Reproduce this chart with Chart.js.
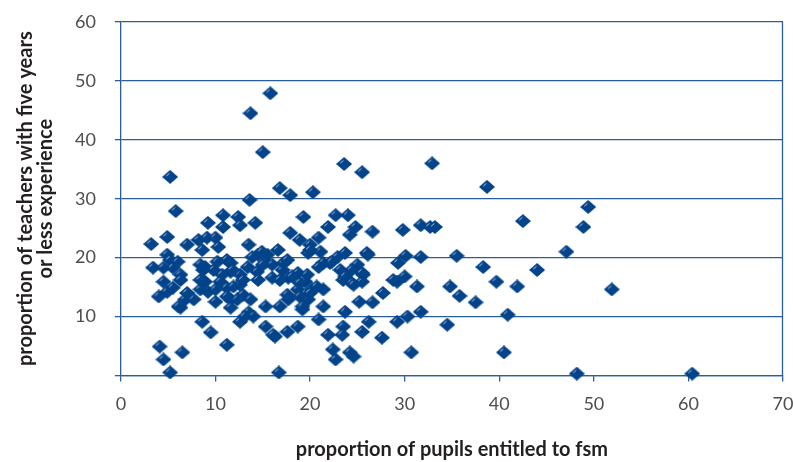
<!DOCTYPE html>
<html>
<head>
<meta charset="utf-8">
<script src="https://cdn.jsdelivr.net/npm/chart.js@4/dist/chart.umd.min.js"></script>
<style>
  html, body { margin: 0; padding: 0; background: #fff; }
  #wrap { width: 793px; height: 462px; }
</style>
</head>
<body>
<div id="wrap"><canvas id="chart" width="793" height="462"></canvas></div>
<script>
// ---- Data ----
const xTicks = [0, 10, 20, 30, 40, 50, 60, 70];
const yTicks = [10, 20, 30, 40, 50, 60];

// proportion of pupils entitled to fsm
const fsmShare = [
  15.8, 13.7, 15.0, 5.2, 13.6, 16.8, 17.9, 20.3, 23.6, 25.5,
  32.9, 38.7, 49.4, 48.9, 42.5, 47.1, 51.9, 44.0, 41.9, 39.7,
  38.3, 35.5, 40.9, 40.5, 48.2, 60.4, 37.5, 35.8, 34.8, 34.5,
  31.7, 30.7, 31.3, 31.7, 30.1, 29.8, 31.7, 32.7, 33.2, 26.6,
  24.8, 24.2, 24.0, 22.7, 29.2, 30.0, 27.7, 26.6, 25.2, 23.7,
  30.3, 29.2, 26.2, 25.5, 27.6, 23.5, 23.4, 24.6, 22.7, 22.4,
  22.9, 23.7, 26.1, 25.0, 24.4, 25.6, 23.2, 23.5, 24.4, 25.5,
  22.1, 29.3, 28.8, 5.8, 10.8, 9.2, 12.4, 12.6, 14.2, 10.8,
  4.9, 3.2, 7.0, 8.2, 9.1, 10.0, 10.3, 8.6, 13.5, 14.5,
  4.9, 5.2, 3.4, 4.5, 5.5, 6.3, 8.9, 9.8, 11.6, 11.6,
  10.7, 12.6, 14.4, 15.3, 4.5, 6.3, 4.9, 4.0, 5.5, 6.8,
  7.7, 6.3, 8.9, 9.2, 10.5, 11.2, 10.0, 11.6, 12.6, 12.9,
  11.6, 12.6, 13.5, 14.5, 15.3, 15.3, 8.6, 9.5, 11.2, 4.1,
  6.5, 4.5, 5.2, 19.3, 21.9, 17.9, 18.9, 20.9, 20.0, 16.6,
  19.8, 21.1, 26.0, 15.5, 21.4, 22.3, 20.9, 18.7, 17.1, 16.0,
  25.5, 16.0, 17.7, 19.5, 18.7, 20.2, 21.4, 17.7, 19.8, 21.4,
  19.2, 23.7, 24.6, 20.9, 18.7, 16.3, 17.6, 21.9, 16.7, 11.2,
  11.8, 11.9, 12.9, 13.7, 12.3, 11.2, 10.0, 8.4, 7.0, 6.1,
  8.4, 8.7, 13.4, 17.2, 16.8, 18.1, 18.9, 19.7, 17.6, 18.9,
  20.0, 20.7, 20.0, 17.6, 15.0, 13.9, 14.9, 10.2, 8.4, 6.0,
  16.1, 24.2, 19.2, 16.8, 14.0, 13.1
];

// proportion of teachers with five years or less experience
const newTeacherShare = [
  47.9, 44.5, 37.9, 33.7, 29.8, 31.8, 30.6, 31.1, 35.9, 34.5,
  36.0, 32.0, 28.6, 25.2, 26.2, 21.0, 14.6, 17.9, 15.1, 15.9,
  18.4, 20.3, 10.3, 3.9, 0.3, 0.3, 12.4, 13.5, 15.1, 8.6,
  10.8, 3.9, 15.1, 20.1, 20.3, 24.7, 25.5, 25.2, 25.2, 24.4,
  25.2, 23.9, 27.2, 27.2, 15.9, 16.8, 14.0, 12.4, 12.5, 10.8,
  10.0, 9.1, 9.1, 7.4, 6.4, 8.3, 6.9, 3.2, 2.7, 4.4,
  20.1, 20.8, 20.5, 18.8, 17.9, 17.1, 17.9, 16.2, 15.7, 15.9,
  19.1, 19.1, 16.2, 27.9, 27.2, 25.9, 26.9, 25.5, 25.9, 25.2,
  23.5, 22.3, 22.2, 23.0, 23.4, 23.4, 21.8, 21.3, 22.2, 20.5,
  20.5, 19.6, 18.3, 18.3, 18.3, 17.1, 18.4, 17.9, 19.1, 17.6,
  17.1, 17.1, 17.6, 19.3, 15.9, 16.2, 14.2, 13.4, 14.9, 12.9,
  12.9, 11.5, 15.9, 14.2, 15.9, 14.9, 12.5, 12.9, 15.4, 13.7,
  11.5, 9.1, 10.7, 16.2, 11.7, 8.3, 9.1, 7.3, 5.2, 4.9,
  3.9, 2.7, 0.5, 26.9, 25.2, 24.2, 23.0, 23.4, 22.2, 21.3,
  20.8, 21.0, 20.8, 20.5, 19.1, 19.3, 18.4, 17.4, 17.9, 18.8,
  17.4, 16.6, 16.6, 15.9, 14.6, 14.6, 14.6, 12.9, 12.9, 11.7,
  11.2, 16.8, 15.4, 9.5, 8.3, 6.6, 7.4, 6.9, 0.5, 19.6,
  17.9, 15.1, 16.2, 12.9, 12.9, 13.4, 14.6, 14.6, 14.0, 11.7,
  16.2, 17.9, 18.4, 19.1, 16.2, 16.8, 15.7, 17.1, 13.7, 13.4,
  14.0, 15.1, 21.3, 19.6, 18.8, 20.1, 21.0, 19.3, 18.8, 19.3,
  6.9, 3.9, 11.7, 11.7, 10.0, 10.0
];

const xTitle = 'proportion of pupils entitled to fsm';
const yTitle = ['proportion of teachers with five years', 'or less experience'];

// ---- Styling ----
const markerBlue = '#02438a';
const lineBlue = '#2a5ca2';
const tickGrey = '#4d4d4d';
const titleInk = '#231f20';

function makeDiamond() {
  const c = document.createElement('canvas');
  c.width = 16; c.height = 14;
  const g = c.getContext('2d');
  g.beginPath();
  g.moveTo(8, 0); g.lineTo(16, 7); g.lineTo(8, 14); g.lineTo(0, 7);
  g.closePath();
  g.fillStyle = markerBlue;
  g.fill();
  // small light edge like the original markers
  g.beginPath();
  g.moveTo(4.2, 6.2); g.lineTo(7.4, 3.4);
  g.strokeStyle = 'rgba(255,255,255,0.8)';
  g.lineWidth = 0.9;
  g.stroke();
  return c;
}

// right-hand frame line of the plot area
const rightFrame = {
  id: 'rightFrame',
  afterDraw(chart) {
    const { ctx, chartArea: a } = chart;
    ctx.save();
    ctx.strokeStyle = lineBlue;
    ctx.lineWidth = 1.3;
    ctx.beginPath();
    ctx.moveTo(Math.round(a.right) - 0.5, a.top);
    ctx.lineTo(Math.round(a.right) - 0.5, a.bottom);
    ctx.stroke();
    ctx.restore();
  }
};

const points = fsmShare.map((x, i) => ({ x, y: newTeacherShare[i] }));

new Chart(document.getElementById('chart'), {
  type: 'scatter',
  data: {
    datasets: [{
      data: points,
      pointStyle: makeDiamond(),
      pointRadius: 8,
      backgroundColor: markerBlue,
      borderColor: markerBlue,
      clip: false
    }]
  },
  options: {
    responsive: false,
    animation: false,
    layout: { autoPadding: false, padding: { top: 22, right: 10, left: 16, bottom: 0 } },
    plugins: { legend: { display: false }, tooltip: { enabled: false } },
    scales: {
      x: {
        type: 'linear',
        min: 0, max: 70,
        afterBuildTicks: s => { s.ticks = xTicks.map(v => ({ value: v })); },
        afterFit: s => { s.paddingLeft = 0; s.paddingRight = 0; },
        ticks: { color: tickGrey, font: { family: 'Lato', size: 18 }, padding: 12, maxRotation: 0 },
        grid: { drawOnChartArea: false, drawTicks: true, tickLength: 6, color: lineBlue, lineWidth: 1.3 },
        border: { display: true, color: lineBlue, width: 1.3 },
        title: {
          display: true, text: xTitle, color: titleInk,
          font: { family: 'Lato', size: 20, weight: 'bold', lineHeight: 1.2 },
          padding: { top: 11, bottom: 0 }
        }
      },
      y: {
        type: 'linear',
        min: 0, max: 60,
        afterBuildTicks: s => { s.ticks = [0].concat(yTicks).map(v => ({ value: v })); },
        afterFit: s => { s.paddingTop = 0; s.paddingBottom = 0; },
        ticks: {
          color: tickGrey, font: { family: 'Lato', size: 18 }, padding: 19,
          callback: v => (v === 0 ? '' : v)
        },
        grid: { color: lineBlue, lineWidth: 1.3, tickLength: 6 },
        border: { display: true, color: lineBlue, width: 1.3 },
        title: {
          display: true, text: yTitle, color: titleInk,
          font: { family: 'Lato', size: 20, weight: 'bold', lineHeight: 1.0 },
          padding: { top: 0, bottom: 0 }
        }
      }
    }
  },
  plugins: [rightFrame]
});
</script>
</body>
</html>
